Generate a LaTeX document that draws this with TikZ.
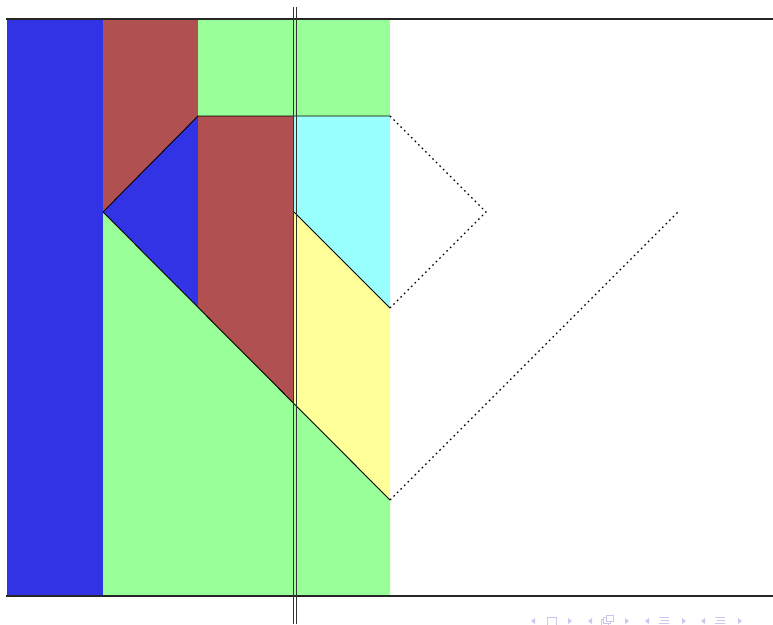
\documentclass[tikz,border=0pt]{standalone}
\begin{document}
\begin{tikzpicture}[x=1pt,y=-1pt,
  edge/.style={line width=0.9pt,black},
  dotedge/.style={line width=1.2pt,black,dash pattern=on 1.6pt off 3.4pt},
  navsym/.style={fill=navc,draw=none},
  navline/.style={draw=navc,line width=0.8pt}]
\definecolor{cblue}{RGB}{51,51,230}
\definecolor{cred}{RGB}{176,80,80}
\definecolor{cgreen}{RGB}{153,255,153}
\definecolor{ccyan}{RGB}{153,255,255}
\definecolor{cyellow}{RGB}{255,255,153}
\definecolor{navc}{RGB}{200,200,238}
\useasboundingbox (0,0) rectangle (773,624);
% grid coordinates
\coordinate (A) at (103,212);
\coordinate (B) at (198,116);
\coordinate (C) at (390,116);
\coordinate (D) at (486,212);
\coordinate (E) at (390,308);
\coordinate (F) at (294,212);
\coordinate (G) at (390,500);
\coordinate (H) at (678,212);
% fills
\fill[cblue] (7,19) rectangle (103,596);
\fill[cred] (103,19) -- (198,19) -- (198,116) -- (103,212) -- cycle;
\fill[cgreen] (198,19) rectangle (390,116);
\fill[cblue] (103,212) -- (198,116) -- (198,308) -- cycle;
\fill[cred] (198,116) -- (294,116) -- (294,404) -- (198,308) -- cycle;
\fill[ccyan] (294,116) -- (390,116) -- (390,308) -- (294,212) -- cycle;
\fill[cyellow] (294,212) -- (390,308) -- (390,500) -- (294,404) -- cycle;
\fill[cgreen] (103,212) -- (294,404) -- (390,500) -- (390,596) -- (103,596) -- cycle;
% solid edges
\draw[edge,line join=round] (A) -- (B) -- (C);
\draw[edge] (A) -- (G);
\draw[edge] (F) -- (E);
% dotted edges
\draw[dotedge] (C) -- (D) -- (E);
\draw[dotedge] (G) -- (H);
% frame lines
\draw[line width=1.3pt,black!85] (6,19) -- (773,19);
\draw[line width=1.3pt,black!85] (6,596) -- (773,596);
\draw[line width=1.1pt,black!80] (293.2,7) -- (293.2,624);
\draw[line width=1.1pt,black!80] (296.4,7) -- (296.4,624);
% navigation symbols
\foreach \cx/\dir in {533/-1,570/1,590/-1,627/1,647/-1,684/1,703/-1,740/1} {
  \fill[navc] (\cx+2*\dir,621) -- (\cx-2*\dir,618) -- (\cx-2*\dir,624) -- cycle;
}
\draw[navline] (547.5,617) rectangle (556.5,625);
\draw[navline] (601,619.5) rectangle (608,625);
\draw[navline,fill=white] (603.5,617.5) rectangle (610.5,623);
\draw[navline,fill=white] (606,615.5) rectangle (613,621);
\foreach \cx in {664,720} {
  \draw[navline] (\cx-5,617) -- (\cx+5,617);
  \draw[navline] (\cx-3,620) -- (\cx+5,620);
  \draw[navline] (\cx-5,623) -- (\cx+5,623);
}
\end{tikzpicture}
\end{document}
